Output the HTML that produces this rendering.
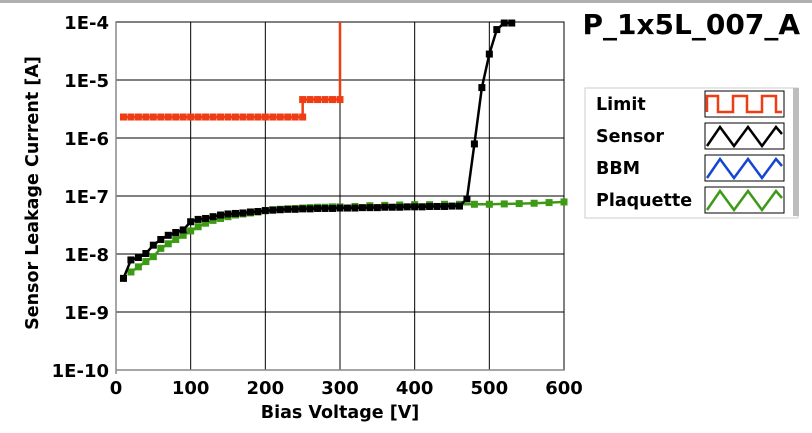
<!DOCTYPE html>
<html><head><meta charset="utf-8"><style>
body{margin:0;background:#fff;}
svg{display:block;font-family:"DejaVu Sans","Liberation Sans",sans-serif;font-weight:bold;}
</style></head><body>
<svg id="c" width="812" height="433">
<rect x="0" y="0" width="812" height="3" fill="#b0b0b0"/>
<text x="800" y="34" font-size="28" text-anchor="end">P_1x5L_007_A</text>
<g id="grid"></g><g id="series"></g><g id="ticks"></g>
<text x="340" y="418" font-size="17.5" text-anchor="middle">Bias Voltage [V]</text>
<text transform="translate(38,193) rotate(-90)" font-size="17.5" text-anchor="middle">Sensor Leakage Current [A]</text>
<g>
<rect x="585" y="88" width="213" height="130" fill="#fff" stroke="#ccc"/>
<rect x="793" y="88" width="6" height="128" fill="#bdbdbd"/>
<g id="legend"></g>
</g>
</svg>
<script>
const X0=116,X1=564,Y0=22,Y1=370;
const xTicks=[0,100,200,300,400,500,600];
const yExp=[-4,-5,-6,-7,-8,-9,-10];
const yLabels=["1E-4","1E-5","1E-6","1E-7","1E-8","1E-9","1E-10"];
const limitX=[10,20,30,40,50,60,70,80,90,100,110,120,130,140,150,160,170,180,190,200,210,220,230,240,250,250,260,270,280,290,300,300];
const limitY=[2.3e-6,2.3e-6,2.3e-6,2.3e-6,2.3e-6,2.3e-6,2.3e-6,2.3e-6,2.3e-6,2.3e-6,2.3e-6,2.3e-6,2.3e-6,2.3e-6,2.3e-6,2.3e-6,2.3e-6,2.3e-6,2.3e-6,2.3e-6,2.3e-6,2.3e-6,2.3e-6,2.3e-6,2.3e-6,4.6e-6,4.6e-6,4.6e-6,4.6e-6,4.6e-6,4.6e-6,1e-4];
const sensorX=[10,20,30,40,50,60,70,80,90,100,110,120,130,140,150,160,170,180,190,200,210,220,230,240,250,260,270,280,290,300,310,320,330,340,350,360,370,380,390,400,410,420,430,440,450,460,470,480,490,500,510,520,530];
const sensorY=[3.8e-9,7.9e-9,8.7e-9,1.02e-8,1.42e-8,1.78e-8,2.1e-8,2.35e-8,2.6e-8,3.6e-8,3.95e-8,4.1e-8,4.4e-8,4.7e-8,4.9e-8,5.0e-8,5.1e-8,5.3e-8,5.4e-8,5.6e-8,5.7e-8,5.8e-8,5.9e-8,5.9e-8,6.0e-8,6.0e-8,6.1e-8,6.1e-8,6.1e-8,6.2e-8,6.2e-8,6.2e-8,6.3e-8,6.3e-8,6.3e-8,6.4e-8,6.4e-8,6.4e-8,6.5e-8,6.5e-8,6.5e-8,6.6e-8,6.6e-8,6.6e-8,6.7e-8,6.7e-8,8.9e-8,7.9e-7,7.4e-6,2.8e-5,7.4e-5,9.6e-5,9.6e-5];
const plaqX=[20,30,40,50,60,70,80,90,100,110,120,130,140,150,160,170,180,190,200,210,220,230,240,250,260,270,280,290,300,320,340,360,380,400,420,440,460,480,500,520,540,560,580,600];
const plaqY=[4.9e-9,6.0e-9,7.4e-9,9.0e-9,1.25e-8,1.5e-8,1.78e-8,2.1e-8,2.5e-8,2.95e-8,3.4e-8,3.8e-8,4.1e-8,4.4e-8,4.7e-8,4.9e-8,5.1e-8,5.3e-8,5.6e-8,5.8e-8,5.9e-8,6.0e-8,6.1e-8,6.2e-8,6.3e-8,6.4e-8,6.4e-8,6.5e-8,6.5e-8,6.6e-8,6.8e-8,6.9e-8,7.0e-8,7.1e-8,7.1e-8,7.2e-8,7.2e-8,7.2e-8,7.2e-8,7.3e-8,7.4e-8,7.5e-8,7.7e-8,7.9e-8];
const NS="http://www.w3.org/2000/svg";
const sx=v=>X0+(v-0)/600*(X1-X0);
const sy=v=>Y0+(-4-Math.log10(v))/6*(Y1-Y0);
const syE=e=>Y0+(-4-e)/6*(Y1-Y0);
function mk(t,a,p){const e=document.createElementNS(NS,t);for(const k in a)e.setAttribute(k,a[k]);p.appendChild(e);return e;}
const grid=document.getElementById('grid'),ticks=document.getElementById('ticks'),ser=document.getElementById('series');
const bg=mk('rect',{x:X0,y:Y0,width:X1-X0,height:Y1-Y0,fill:'#fff',stroke:'#000','stroke-width':1},grid);


xTicks.forEach(v=>{
 const l=mk('line',{x1:sx(v),x2:sx(v),y1:Y0,y2:Y1,stroke:'#000','stroke-width':1},grid);
 
 
 const t=mk('text',{x:sx(v),y:Y1+24,'font-size':18,'text-anchor':'middle'},ticks);
 t.textContent=v;
 
 
});
yExp.forEach((e,i)=>{
 const l=mk('line',{x1:X0,x2:X1,y1:syE(e),y2:syE(e),stroke:'#000','stroke-width':1},grid);
 
 
 const t=mk('text',{x:109,y:syE(e)+7,'font-size':18,'text-anchor':'end'},ticks);
 t.textContent=yLabels[i];
 
 
});
mk('line',{x1:X0,x2:X0,y1:Y0,y2:Y1+4,stroke:'#888','stroke-width':1.5},grid);
mk('line',{x1:X0,x2:X1,y1:Y1,y2:Y1,stroke:'#888','stroke-width':1.5},grid);
function series(xs,ys,col,name,step){
 const g=mk('g',{},ser);
 
 
 let d='';
 xs.forEach((x,i)=>{d+=(i?'L':'M')+sx(x)+','+sy(ys[i]);});
 mk('path',{d:d,fill:'none',stroke:col,'stroke-width':2.5},g);
 xs.forEach((x,i)=>{
  if(step&&ys[i]>=1e-4)return;
  const r=mk('rect',{x:sx(x)-3.5,y:sy(ys[i])-3.5,width:7,height:7,fill:col},g);
  
  
 });
}
series(limitX,limitY,'#f03c14','limit',true);
series(plaqX,plaqY,'#3c9a14','plaquette');
series(sensorX,sensorY,'#000','sensor');
const leg=document.getElementById('legend');
const names=["Limit","Sensor","BBM","Plaquette"],cols=["#f03c14","#000","#1446d2","#3c9a14"];
names.forEach((n,i)=>{
 const y=104+i*32;
 const t=mk('text',{x:596,y:y+6,'font-size':17.5},leg);
 t.textContent=n;
 
 
 mk('rect',{x:705,y:y-13,width:79,height:26,fill:'#fff',stroke:'#000','stroke-width':1},leg);
 let d;
 if(i==0){d=`M707,${y+8}V${y-8}H718V${y+8}H733V${y-8}H747V${y+8}H762V${y-8}H776V${y+8}H782`;}
 else{d=`M707,${y+10}L720,${y-9}L734,${y+10}L748,${y-9}L762,${y+10}L776,${y-9}L782,${y-2}`;}
 mk('path',{d:d,fill:'none',stroke:cols[i],'stroke-width':2.5},leg);
});
</script>
</body></html>
